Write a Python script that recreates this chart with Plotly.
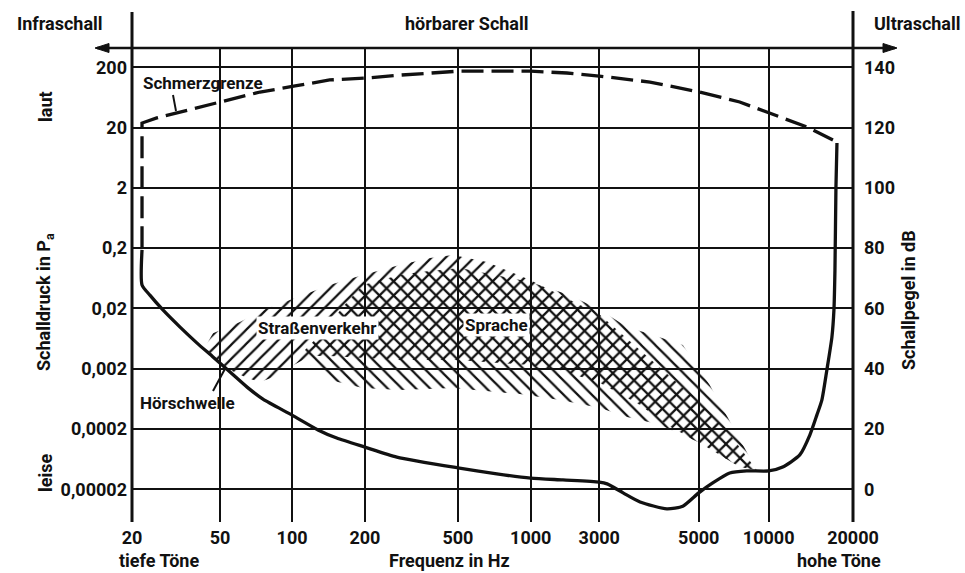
import numpy as np
import plotly.graph_objects as go

# ---------------- data ----------------
FREQ_TICKS = [20, 50, 100, 200, 500, 1000, 3000, 5000, 10000, 20000]
# printed (non-uniform) frequency scale of the original drawing, in % of axis width
FREQ_SCALE = [0, 12.2, 22.2, 32.3, 45.2, 55.3, 64.8, 78.6, 88.3, 100]
DB_TICKS = [0, 20, 40, 60, 80, 100, 120, 140]
PA_LABELS = ["0,00002", "0,0002", "0,002", "0,02", "0,2", "2", "20", "200"]

# Hörschwelle (threshold of hearing)
HS_F = [22.2, 22.2, 24.1, 27.6, 33.0, 39.4, 46.5, 55.1, 64.9, 75.6, 100, 128, 153, 200, 274,
        500, 724, 1000, 1677, 3000, 3125, 3392, 3700, 4246, 4608, 5000, 5744, 6798, 8043,
        10000, 11225, 12916, 14026, 14859, 15483, 16136, 16818, 17100, 17243, 17386, 17530]
HS_DB = [79.4, 67.8, 64.4, 59.5, 53.8, 48.5, 43.9, 38.9, 33.9, 29.9, 24.6, 19.7, 17.0, 14.0, 10.7,
         7.1, 5.1, 3.7, 3.1, 2.4, 1.8, -1.2, -4.2, -6.5, -5.6, -1.2, 2.1, 5.4, 6.1,
         6.1, 7.4, 11.4, 18.0, 24.6, 29.6, 39.6, 50.5, 59.5, 72.7, 100.3, 114.9]

# Schmerzgrenze (threshold of pain)
SG_F = [22.2, 22.2, 25.9, 35.5, 50, 73.5, 103, 143, 200, 282, 500, 745, 1000, 1789, 3000,
        3893, 5033, 7505, 10083, 13686, 16960]
SG_DB = [80.0, 121.5, 123.2, 125.8, 128.5, 131.8, 133.8, 135.8, 136.4, 137.4, 138.7, 138.7,
         138.7, 138.1, 137.1, 135.1, 131.8, 128.5, 124.8, 120.2, 115.9]

# Straßenverkehr area (outline)
SV_F = [42.8, 46.5, 60.6, 75.6, 98, 143, 196, 282, 380, 476, 659, 994, 3015, 3954, 4950, 6597, 8880,
        7505, 5049, 4246, 3700, 3015, 1597, 994, 500, 282, 196, 143, 119, 98, 83.3, 73.5, 64.9,
        55.1, 48.8, 43.7]
SV_DB = [47.2, 51.8, 55.5, 59.5, 62.8, 67.8, 71.1, 74.4, 76.7, 77.7, 75.4, 69.4, 57.8, 42.2, 29.6,
         19.7, 6.4, 7.4, 15.4, 21.3, 28.0, 35.3, 39.6, 41.2, 42.9, 42.9, 43.6, 44.2, 44.2, 40.6,
         37.2, 35.6, 36.9, 39.6, 42.9, 46.2]

# Sprache area (outline)
SP_F = [113, 130, 165, 196, 282, 344, 510, 994, 1877, 3015, 3461, 3954, 4608, 5577, 7142, 8880,
        7505, 5049, 4246, 3954, 3461, 3015, 1597, 901, 476, 282, 196, 143, 119]
SP_DB = [46.2, 51.2, 61.1, 67.8, 71.1, 72.1, 73.4, 68.8, 64.4, 59.5, 53.8, 51.2, 47.9, 34.6, 19.7,
         6.4, 7.4, 15.4, 20.3, 22.0, 24.0, 27.0, 29.6, 31.6, 33.6, 32.9, 33.6, 36.3, 41.2]


def fx(freqs):
    return np.interp(np.log10(freqs), np.log10(FREQ_TICKS), FREQ_SCALE)


FONT = "Roboto, Liberation Sans, DejaVu Sans, sans-serif"
INK = "#111111"

# plot-area geometry (pixels) used for placing decorative text
L, R, T, B = 132, 853, 48, 522
W, H = R - L, B - T


def px(x):
    return (x - L) / W


def py(y):
    return (B - y) / H


fig = go.Figure()

fig.add_trace(go.Scatter(
    x=fx(SV_F), y=SV_DB, fill="toself", mode="lines", line=dict(width=0),
    fillcolor="rgba(0,0,0,0)",
    fillpattern=dict(shape="/", size=10, solidity=0.22, fgcolor=INK,
                     bgcolor="rgba(0,0,0,0)", fillmode="replace"),
    hoverinfo="skip", showlegend=False))
fig.add_trace(go.Scatter(
    x=fx(SP_F), y=SP_DB, fill="toself", mode="lines", line=dict(width=0),
    fillcolor="rgba(0,0,0,0)",
    fillpattern=dict(shape="\\", size=10, solidity=0.22, fgcolor=INK,
                     bgcolor="rgba(0,0,0,0)", fillmode="replace"),
    hoverinfo="skip", showlegend=False))
fig.add_trace(go.Scatter(
    x=fx(HS_F), y=HS_DB, mode="lines", line=dict(color=INK, width=3.3, shape="spline", smoothing=0.6),
    showlegend=False))
fig.add_trace(go.Scatter(
    x=fx(SG_F), y=SG_DB, mode="lines", line=dict(color=INK, width=3.3, dash="22px,8px"),
    showlegend=False))
fig.add_trace(go.Scatter(x=[fx(FREQ_TICKS)[0]], y=[DB_TICKS[0]], yaxis="y2", mode="markers",
                         marker=dict(opacity=0), showlegend=False, hoverinfo="skip"))

tickfont = dict(family=FONT, size=18, color=INK, weight=700)
yr = [-10.85, 146.4]

fig.update_layout(
    width=965, height=573, autosize=False,
    margin=dict(l=L, r=965 - R, t=T, b=573 - B),
    paper_bgcolor="white", plot_bgcolor="white",
    font=dict(family=FONT, color=INK, size=18),
    xaxis=dict(range=[0, 100], tickvals=fx(FREQ_TICKS), ticktext=[str(f) for f in FREQ_TICKS],
               showgrid=True, gridcolor=INK, gridwidth=2, zeroline=False, showline=False,
               ticks="", tickfont=tickfont, ticklabelstandoff=3),
    yaxis=dict(range=yr, tickvals=DB_TICKS, ticktext=PA_LABELS, showgrid=True, gridcolor=INK,
               gridwidth=2, zeroline=False, ticks="", tickfont=tickfont, ticklabelstandoff=4),
    yaxis2=dict(range=yr, tickvals=DB_TICKS, ticktext=[str(d) for d in DB_TICKS], overlaying="y",
                side="right", anchor="x", showgrid=False, zeroline=False, ticks="",
                tickfont=tickfont, ticklabelstandoff=10),
)

shapes = [
    dict(type="line", xref="paper", yref="paper", x0=px(97), x1=px(895), y0=1, y1=1,
         line=dict(color=INK, width=2.5)),
    dict(type="path", xref="paper", yref="paper",
         path=f"M {px(95)},1 L {px(109)},{py(43.5)} L {px(109)},{py(52.5)} Z",
         fillcolor=INK, line=dict(color=INK, width=1)),
    dict(type="path", xref="paper", yref="paper",
         path=f"M {px(897)},1 L {px(883)},{py(43.5)} L {px(883)},{py(52.5)} Z",
         fillcolor=INK, line=dict(color=INK, width=1)),
    dict(type="line", xref="paper", yref="paper", x0=0, x1=0, y0=0, y1=py(12),
         line=dict(color=INK, width=3)),
    dict(type="line", xref="paper", yref="paper", x0=1, x1=1, y0=0, y1=py(11),
         line=dict(color=INK, width=3)),
    dict(type="line", xref="paper", yref="paper", x0=px(173), x1=px(176), y0=py(95), y1=py(111),
         line=dict(color=INK, width=2)),
    dict(type="line", xref="paper", yref="paper", x0=px(213), x1=px(226), y0=py(391), y1=py(367),
         line=dict(color=INK, width=2)),
]
fig.update_layout(shapes=shapes)

ann = []


def text(t, x, y, size=18, angle=0, bg=None, xanchor="center", yanchor="middle"):
    d = dict(text=t, x=px(x), y=py(y), xref="paper", yref="paper", showarrow=False,
             font=dict(family=FONT, size=size, color=INK, weight=700), textangle=angle,
             xanchor=xanchor, yanchor=yanchor)
    if bg:
        d.update(bgcolor=bg, borderpad=1)
    ann.append(d)


text("Infraschall", 60, 23)
text("hörbarer Schall", 467, 23)
text("Ultraschall", 917, 23)
text("laut", 45, 107, angle=-90)
text("Schalldruck in P<sub>a</sub>", 45, 302, angle=-90)
text("leise", 45, 473, angle=-90)
text("Schallpegel in dB", 908, 300, angle=-90)
text("tiefe Töne", 159, 573, yanchor="bottom")
text("Frequenz in Hz", 449, 573, yanchor="bottom")
text("hohe Töne", 839, 573, yanchor="bottom")
text("Schmerzgrenze", 203, 83, size=17)
text("Hörschwelle", 187, 403, size=17)
text("Straßenverkehr", 317, 328, size=17, bg="white")
text("Sprache", 496, 325, size=17, bg="white")

fig.update_layout(annotations=ann)
fig.write_html("out.html", config={"displayModeBar": False},
               post_script="document.body.style.margin='0px';")
